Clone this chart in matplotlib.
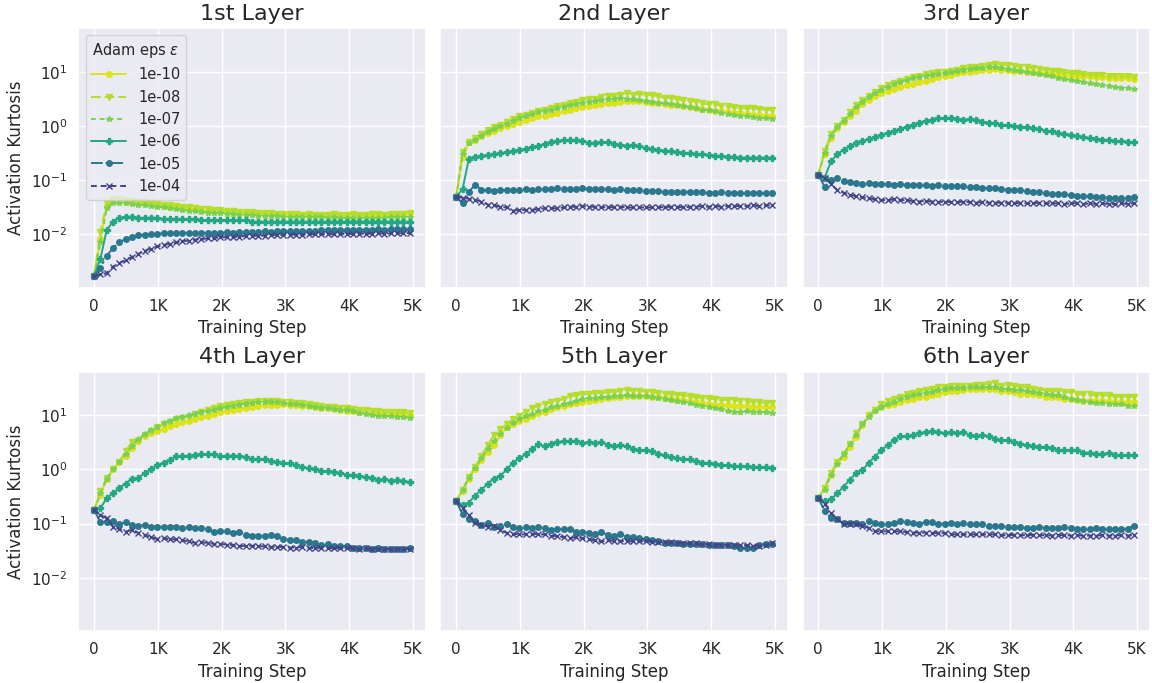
import numpy as np
import matplotlib
matplotlib.use("Agg")
import matplotlib.pyplot as plt
import seaborn as sns

# training steps at which the kurtosis was logged
steps = list(range(0, 5000, 99))

eps_labels = ['1e-10', '1e-08', '1e-07', '1e-06', '1e-05', '1e-04']
layer_names = ['1st Layer', '2nd Layer', '3rd Layer', '4th Layer', '5th Layer', '6th Layer']
xtick_vals = [0, 1000, 2000, 3000, 4000, 5000]
xtick_labels = ['0', '1K', '2K', '3K', '4K', '5K']

# ---- 1st layer ----
k1_e10 = [0.0017, 0.008, 0.035, 0.042, 0.041, 0.040, 0.039, 0.038, 0.037, 0.036,
          0.034, 0.033, 0.032, 0.031, 0.030, 0.029, 0.029, 0.028, 0.028, 0.027,
          0.027, 0.026, 0.026, 0.026, 0.025, 0.025, 0.025, 0.024, 0.024, 0.024,
          0.024, 0.023, 0.024, 0.023, 0.023, 0.023, 0.023, 0.023, 0.023, 0.023,
          0.023, 0.023, 0.023, 0.023, 0.022, 0.023, 0.023, 0.023, 0.024, 0.024,
          0.025]
k1_e08 = [0.0017, 0.011, 0.038, 0.045, 0.044, 0.043, 0.041, 0.040, 0.039, 0.037,
          0.036, 0.035, 0.034, 0.033, 0.032, 0.031, 0.030, 0.029, 0.029, 0.028,
          0.028, 0.027, 0.027, 0.026, 0.026, 0.026, 0.025, 0.025, 0.025, 0.024,
          0.024, 0.024, 0.024, 0.023, 0.024, 0.023, 0.023, 0.023, 0.024, 0.023,
          0.023, 0.024, 0.023, 0.023, 0.024, 0.024, 0.023, 0.024, 0.024, 0.024,
          0.025]
k1_e07 = [0.0017, 0.007, 0.030, 0.038, 0.038, 0.037, 0.036, 0.035, 0.034, 0.033,
          0.032, 0.031, 0.030, 0.029, 0.028, 0.027, 0.027, 0.026, 0.025, 0.025,
          0.025, 0.024, 0.024, 0.023, 0.023, 0.023, 0.022, 0.022, 0.022, 0.022,
          0.021, 0.021, 0.021, 0.021, 0.021, 0.021, 0.021, 0.020, 0.021, 0.020,
          0.020, 0.020, 0.020, 0.020, 0.020, 0.020, 0.020, 0.021, 0.021, 0.021,
          0.021]
k1_e06 = [0.0017, 0.0035, 0.012, 0.017, 0.020, 0.021, 0.021, 0.020, 0.020, 0.020,
          0.020, 0.019, 0.019, 0.019, 0.019, 0.019, 0.019, 0.018, 0.018, 0.018,
          0.018, 0.018, 0.018, 0.018, 0.018, 0.017, 0.017, 0.017, 0.017, 0.017,
          0.017, 0.017, 0.017, 0.017, 0.017, 0.017, 0.017, 0.017, 0.017, 0.017,
          0.017, 0.017, 0.017, 0.017, 0.017, 0.017, 0.017, 0.017, 0.017, 0.017,
          0.017]
k1_e05 = [0.0017, 0.0024, 0.0040, 0.0055, 0.0070, 0.0082, 0.0090, 0.0095, 0.0098, 0.0100,
          0.0102, 0.0103, 0.0104, 0.0104, 0.0105, 0.0105, 0.0105, 0.0106, 0.0105, 0.0106,
          0.0106, 0.0107, 0.0106, 0.0107, 0.0108, 0.0108, 0.0110, 0.0112, 0.0111, 0.0112,
          0.0112, 0.0113, 0.0114, 0.0115, 0.0114, 0.0116, 0.0117, 0.0118, 0.0117, 0.0119,
          0.0120, 0.0120, 0.0121, 0.0119, 0.0121, 0.0122, 0.0121, 0.0122, 0.0123, 0.0122,
          0.0125]
k1_e04 = [0.0017, 0.0018, 0.0019, 0.0025, 0.0029, 0.0033, 0.0038, 0.0043, 0.0049, 0.0054,
          0.0059, 0.0063, 0.0066, 0.0070, 0.0074, 0.0076, 0.0079, 0.0081, 0.0083, 0.0085,
          0.0087, 0.0088, 0.0089, 0.0090, 0.0092, 0.0093, 0.0093, 0.0094, 0.0095, 0.0096,
          0.0097, 0.0097, 0.0098, 0.0097, 0.0099, 0.0099, 0.0100, 0.0099, 0.0100, 0.0101,
          0.0100, 0.0101, 0.0102, 0.0101, 0.0102, 0.0103, 0.0102, 0.0103, 0.0104, 0.0103,
          0.0105]

# ---- 2nd layer ----
k2_e10 = [0.049, 0.27, 0.51, 0.55, 0.64, 0.74, 0.82, 0.90, 1.00, 1.10,
          1.20, 1.30, 1.40, 1.50, 1.55, 1.65, 1.75, 1.85, 1.95, 2.10,
          2.25, 2.35, 2.45, 2.55, 2.65, 2.70, 2.80, 2.90, 2.90, 2.85,
          2.80, 2.70, 2.60, 2.55, 2.45, 2.40, 2.30, 2.25, 2.15, 2.05,
          1.95, 1.90, 1.85, 1.80, 1.75, 1.70, 1.65, 1.60, 1.60, 1.55,
          1.50]
k2_e08 = [0.049, 0.33, 0.50, 0.60, 0.72, 0.85, 0.95, 1.05, 1.20, 1.35,
          1.50, 1.60, 1.75, 1.90, 2.00, 2.15, 2.30, 2.45, 2.60, 2.75,
          3.00, 3.10, 3.20, 3.35, 3.50, 3.60, 3.70, 4.10, 3.80, 3.90,
          3.70, 3.75, 3.50, 3.30, 3.30, 3.10, 3.00, 2.90, 2.80, 2.60,
          2.50, 2.50, 2.35, 2.30, 2.20, 2.15, 2.10, 2.10, 2.05, 2.00,
          1.95]
k2_e07 = [0.049, 0.30, 0.48, 0.56, 0.66, 0.78, 0.88, 0.98, 1.10, 1.25,
          1.40, 1.50, 1.65, 1.80, 1.90, 2.00, 2.10, 2.25, 2.40, 2.55,
          2.70, 2.80, 2.90, 3.00, 3.10, 3.20, 3.30, 3.20, 3.10, 3.00,
          2.90, 2.80, 2.70, 2.60, 2.50, 2.40, 2.30, 2.20, 2.10, 2.00,
          1.95, 1.85, 1.75, 1.65, 1.60, 1.55, 1.50, 1.45, 1.40, 1.38,
          1.34]
k2_e06 = [0.049, 0.067, 0.245, 0.27, 0.28, 0.29, 0.30, 0.31, 0.33, 0.34,
          0.36, 0.38, 0.40, 0.43, 0.46, 0.50, 0.52, 0.55, 0.54, 0.55,
          0.53, 0.48, 0.49, 0.50, 0.50, 0.46, 0.45, 0.43, 0.44, 0.42,
          0.39, 0.37, 0.36, 0.35, 0.34, 0.33, 0.32, 0.31, 0.30, 0.30,
          0.29, 0.28, 0.28, 0.27, 0.27, 0.26, 0.26, 0.26, 0.26, 0.26,
          0.26]
k2_e05 = [0.049, 0.037, 0.060, 0.082, 0.066, 0.064, 0.063, 0.064, 0.066, 0.065,
          0.064, 0.068, 0.066, 0.068, 0.069, 0.068, 0.070, 0.069, 0.069, 0.068,
          0.070, 0.069, 0.068, 0.069, 0.067, 0.066, 0.068, 0.064, 0.066, 0.065,
          0.063, 0.062, 0.062, 0.061, 0.061, 0.060, 0.060, 0.061, 0.059, 0.059,
          0.058, 0.058, 0.059, 0.058, 0.058, 0.057, 0.058, 0.057, 0.058, 0.057,
          0.058]
k2_e04 = [0.049, 0.047, 0.045, 0.043, 0.040, 0.035, 0.034, 0.032, 0.031, 0.027,
          0.028, 0.028, 0.028, 0.029, 0.030, 0.030, 0.030, 0.031, 0.032, 0.032,
          0.033, 0.032, 0.032, 0.031, 0.032, 0.031, 0.032, 0.031, 0.031, 0.031,
          0.031, 0.031, 0.032, 0.031, 0.032, 0.032, 0.031, 0.032, 0.032, 0.033,
          0.032, 0.033, 0.032, 0.033, 0.033, 0.033, 0.033, 0.034, 0.033, 0.034,
          0.034]

# ---- 3rd layer ----
k3_e10 = [0.126, 0.30, 0.60, 0.90, 1.2, 1.5, 1.9, 2.5, 3.0, 3.5,
          4.0, 4.4, 4.8, 5.2, 5.6, 6.0, 6.4, 6.8, 7.3, 7.9,
          8.5, 8.9, 9.3, 9.7, 10.0, 10.3, 10.6, 11.0, 11.2, 11.0,
          10.7, 10.5, 10.3, 10.0, 9.8, 9.6, 9.4, 9.2, 9.0, 8.8,
          8.6, 8.4, 8.3, 8.2, 8.0, 7.9, 7.8, 7.8, 7.7, 7.6,
          7.5]
k3_e08 = [0.126, 0.35, 0.70, 1.0, 1.3, 1.8, 2.4, 3.0, 3.6, 4.3,
          5.0, 5.6, 6.2, 6.8, 7.4, 8.0, 8.5, 9.0, 9.4, 9.7,
          10.0, 10.5, 11.0, 11.5, 12.0, 12.5, 13.0, 13.5, 14.0, 13.6,
          13.2, 12.8, 12.4, 12.0, 11.6, 11.2, 10.8, 10.5, 10.2, 9.8,
          9.5, 9.3, 9.1, 8.9, 8.7, 8.6, 8.5, 8.4, 8.3, 8.2,
          8.0]
k3_e07 = [0.126, 0.32, 0.65, 0.95, 1.25, 1.65, 2.2, 2.8, 3.4, 4.0,
          4.7, 5.3, 5.9, 6.5, 7.1, 7.6, 8.1, 8.5, 8.9, 9.2,
          9.5, 9.9, 10.3, 10.7, 11.1, 11.5, 11.8, 12.0, 12.0, 11.6,
          11.2, 10.8, 10.3, 9.9, 9.5, 9.0, 8.6, 8.2, 7.8, 7.4,
          7.0, 6.7, 6.4, 6.1, 5.9, 5.7, 5.5, 5.3, 5.1, 5.0,
          4.8]
k3_e06 = [0.126, 0.11, 0.22, 0.30, 0.36, 0.42, 0.48, 0.52, 0.57, 0.62,
          0.68, 0.74, 0.80, 0.88, 0.96, 1.05, 1.15, 1.25, 1.30, 1.40,
          1.38, 1.42, 1.35, 1.30, 1.32, 1.28, 1.20, 1.15, 1.12, 1.05,
          1.02, 1.00, 0.97, 0.94, 0.90, 0.86, 0.82, 0.79, 0.75, 0.71,
          0.68, 0.65, 0.62, 0.60, 0.58, 0.56, 0.55, 0.53, 0.52, 0.51,
          0.50]
k3_e05 = [0.126, 0.075, 0.10, 0.11, 0.095, 0.090, 0.087, 0.085, 0.088, 0.085,
          0.086, 0.084, 0.082, 0.083, 0.081, 0.080, 0.082, 0.080, 0.079, 0.080,
          0.078, 0.077, 0.078, 0.076, 0.074, 0.075, 0.072, 0.070, 0.071, 0.068,
          0.066, 0.065, 0.064, 0.062, 0.061, 0.059, 0.058, 0.056, 0.055, 0.054,
          0.052, 0.051, 0.050, 0.050, 0.049, 0.048, 0.047, 0.047, 0.046, 0.046,
          0.048]
k3_e04 = [0.126, 0.11, 0.085, 0.065, 0.058, 0.053, 0.050, 0.048, 0.046, 0.044,
          0.043, 0.042, 0.044, 0.043, 0.042, 0.041, 0.040, 0.041, 0.040, 0.039,
          0.040, 0.039, 0.039, 0.040, 0.039, 0.038, 0.039, 0.038, 0.038, 0.038,
          0.038, 0.037, 0.038, 0.037, 0.037, 0.038, 0.037, 0.037, 0.037, 0.036,
          0.037, 0.037, 0.036, 0.037, 0.036, 0.037, 0.036, 0.036, 0.037, 0.036,
          0.037]

# ---- 4th layer ----
k4_e10 = [0.178, 0.34, 0.67, 1.0, 1.37, 1.8, 2.5, 3.4, 4.2, 4.8,
          5.2, 5.7, 6.3, 6.8, 7.4, 8.0, 8.6, 9.2, 9.9, 10.6,
          11.3, 12.0, 12.6, 13.2, 13.8, 14.5, 15.0, 15.3, 15.6, 15.8,
          15.9, 15.7, 15.5, 15.2, 14.8, 14.2, 13.8, 13.4, 13.0, 12.6,
          12.2, 11.9, 11.6, 11.3, 11.1, 11.0, 10.8, 10.6, 10.5, 10.4,
          10.3]
k4_e08 = [0.178, 0.40, 0.70, 1.0, 1.4, 2.2, 3.2, 3.4, 4.4, 5.2,
          6.0, 6.8, 7.6, 8.4, 9.0, 9.5, 10.5, 11.5, 12.5, 13.5,
          14.9, 15.5, 16.2, 16.8, 17.5, 18.0, 18.3, 18.5, 18.5, 18.2,
          18.0, 17.6, 17.2, 16.8, 16.2, 15.6, 15.0, 14.5, 14.2, 13.8,
          13.5, 13.0, 12.6, 12.3, 12.0, 11.8, 11.6, 11.5, 11.4, 11.3,
          11.2]
k4_e07 = [0.178, 0.36, 0.68, 1.0, 1.35, 1.9, 2.7, 3.6, 4.6, 5.4,
          6.2, 7.2, 8.0, 8.8, 9.4, 10.0, 10.8, 11.5, 12.2, 12.8,
          13.5, 14.2, 15.0, 15.8, 16.5, 17.0, 17.5, 18.0, 18.0, 17.6,
          17.0, 16.5, 16.0, 15.5, 14.8, 14.2, 13.8, 13.4, 13.0, 12.8,
          12.5, 11.8, 11.2, 10.6, 10.2, 9.8, 9.7, 9.6, 9.4, 9.2,
          9.0]
k4_e06 = [0.178, 0.19, 0.30, 0.36, 0.46, 0.55, 0.68, 0.70, 0.85, 1.00,
          1.20, 1.33, 1.50, 1.75, 1.78, 1.80, 1.85, 1.90, 1.90, 1.90,
          1.75, 1.80, 1.80, 1.78, 1.70, 1.55, 1.55, 1.55, 1.45, 1.35,
          1.33, 1.30, 1.20, 1.10, 1.05, 1.00, 0.95, 0.92, 0.90, 0.85,
          0.80, 0.78, 0.77, 0.72, 0.70, 0.64, 0.66, 0.62, 0.64, 0.60,
          0.59]
k4_e05 = [0.178, 0.106, 0.106, 0.110, 0.098, 0.106, 0.094, 0.090, 0.094, 0.088,
          0.087, 0.087, 0.088, 0.088, 0.082, 0.088, 0.082, 0.082, 0.078, 0.071,
          0.074, 0.073, 0.066, 0.071, 0.062, 0.060, 0.060, 0.058, 0.062, 0.058,
          0.052, 0.050, 0.050, 0.046, 0.046, 0.044, 0.041, 0.042, 0.039, 0.039,
          0.039, 0.036, 0.036, 0.036, 0.034, 0.035, 0.034, 0.034, 0.034, 0.034,
          0.036]
k4_e04 = [0.178, 0.144, 0.125, 0.088, 0.080, 0.071, 0.076, 0.067, 0.061, 0.056,
          0.052, 0.053, 0.051, 0.051, 0.049, 0.047, 0.044, 0.045, 0.044, 0.042,
          0.042, 0.041, 0.040, 0.038, 0.039, 0.039, 0.038, 0.038, 0.037, 0.037,
          0.037, 0.036, 0.036, 0.037, 0.036, 0.035, 0.036, 0.035, 0.035, 0.035,
          0.035, 0.035, 0.034, 0.035, 0.034, 0.034, 0.034, 0.034, 0.034, 0.034,
          0.034]

# ---- 5th layer ----
k5_e10 = [0.26, 0.40, 0.68, 1.0, 1.47, 2.1, 2.8, 4.3, 6.1, 6.9,
          8.0, 8.6, 9.9, 11.0, 11.6, 13.0, 14.0, 15.0, 16.1, 17.0,
          17.8, 18.6, 19.3, 20.0, 20.8, 21.4, 22.0, 22.4, 22.4, 22.6,
          22.4, 22.0, 21.4, 20.8, 20.0, 19.6, 19.0, 18.5, 17.8, 17.0,
          16.1, 15.8, 15.5, 15.3, 15.0, 14.8, 14.6, 14.4, 14.3, 14.1,
          14.0]
k5_e08 = [0.26, 0.42, 0.73, 1.1, 1.8, 2.85, 4.4, 5.6, 6.9, 8.5,
          9.9, 11.7, 13.5, 15.0, 16.0, 17.5, 18.7, 20.0, 22.5, 23.5,
          24.6, 25.0, 25.5, 26.0, 26.5, 27.0, 28.5, 29.6, 28.5, 28.5,
          27.5, 26.6, 26.0, 25.0, 24.6, 24.0, 23.6, 22.5, 21.4, 21.0,
          20.5, 20.0, 19.6, 19.3, 18.9, 18.6, 18.2, 17.8, 17.4, 17.1,
          16.8]
k5_e07 = [0.26, 0.41, 0.70, 1.05, 1.6, 2.4, 3.3, 4.6, 5.8, 7.2,
          8.6, 9.6, 10.8, 11.8, 12.8, 14.0, 15.0, 16.0, 17.0, 18.6,
          20.0, 20.6, 21.0, 21.6, 22.0, 22.6, 23.0, 23.6, 23.2, 23.0,
          22.4, 21.6, 20.8, 20.0, 19.3, 18.6, 17.8, 16.6, 15.8, 15.0,
          14.0, 13.4, 12.9, 12.2, 11.6, 11.6, 11.8, 11.6, 11.4, 11.6,
          11.0]
k5_e06 = [0.26, 0.22, 0.245, 0.33, 0.42, 0.55, 0.68, 0.76, 1.0, 1.33,
          1.6, 1.9, 2.35, 2.9, 2.7, 2.98, 3.2, 3.29, 3.29, 3.43,
          3.07, 3.2, 3.07, 3.2, 2.86, 2.7, 2.78, 2.7, 2.41, 2.25,
          2.25, 2.15, 1.95, 1.82, 1.69, 1.62, 1.54, 1.54, 1.41, 1.33,
          1.33, 1.28, 1.23, 1.19, 1.14, 1.14, 1.16, 1.11, 1.10, 1.09,
          1.08]
k5_e05 = [0.26, 0.148, 0.12, 0.112, 0.094, 0.103, 0.088, 0.090, 0.098, 0.088,
          0.082, 0.085, 0.084, 0.088, 0.082, 0.076, 0.079, 0.079, 0.079, 0.070,
          0.071, 0.067, 0.065, 0.071, 0.061, 0.059, 0.063, 0.057, 0.057, 0.054,
          0.051, 0.049, 0.047, 0.044, 0.044, 0.044, 0.042, 0.042, 0.042, 0.042,
          0.041, 0.040, 0.040, 0.040, 0.038, 0.036, 0.036, 0.036, 0.040, 0.042,
          0.042]
k5_e04 = [0.26, 0.19, 0.144, 0.103, 0.094, 0.088, 0.090, 0.076, 0.067, 0.065,
          0.063, 0.063, 0.065, 0.063, 0.063, 0.059, 0.059, 0.056, 0.054, 0.056,
          0.054, 0.051, 0.049, 0.047, 0.049, 0.048, 0.048, 0.047, 0.047, 0.047,
          0.047, 0.046, 0.046, 0.045, 0.045, 0.044, 0.044, 0.043, 0.043, 0.042,
          0.042, 0.041, 0.041, 0.040, 0.040, 0.040, 0.040, 0.039, 0.039, 0.040,
          0.043]

# ---- 6th layer ----
k6_e10 = [0.30, 0.45, 0.79, 1.3, 1.72, 2.6, 4.0, 6.6, 10.0, 12.4,
          14.2, 15.3, 16.4, 17.5, 19.4, 20.2, 21.7, 22.3, 23.3, 25.0,
          26.8, 28.0, 28.8, 29.6, 31.0, 31.0, 31.0, 31.0, 31.0, 28.8,
          28.0, 26.8, 25.0, 25.0, 24.3, 23.3, 22.3, 21.7, 21.7, 20.2,
          20.2, 19.4, 18.8, 18.8, 18.8, 18.3, 18.3, 17.5, 17.5, 17.5,
          17.5]
k6_e08 = [0.30, 0.46, 0.86, 1.4, 1.9, 3.0, 4.8, 7.0, 10.0, 12.8,
          16.4, 18.3, 20.2, 22.3, 24.3, 25.8, 28.0, 29.6, 31.0, 33.0,
          34.0, 35.5, 35.5, 35.5, 35.5, 37.0, 37.0, 38.0, 39.0, 35.5,
          37.0, 35.5, 33.0, 33.0, 31.0, 30.0, 28.8, 28.0, 28.0, 26.8,
          26.8, 25.0, 24.3, 24.3, 23.3, 23.3, 23.3, 22.3, 22.3, 22.3,
          22.3]
k6_e07 = [0.30, 0.42, 0.78, 1.25, 1.9, 2.9, 4.4, 6.8, 9.5, 12.0,
          14.2, 16.0, 17.8, 19.8, 21.5, 23.3, 24.5, 26.0, 27.5, 29.0,
          30.5, 32.0, 32.0, 32.5, 33.0, 33.0, 33.0, 33.0, 33.0, 31.0,
          31.0, 30.0, 29.6, 28.0, 26.8, 26.0, 25.0, 24.0, 23.3, 22.0,
          20.2, 19.5, 18.3, 17.5, 16.8, 16.8, 16.4, 16.0, 15.9, 15.2,
          14.6]
k6_e06 = [0.30, 0.26, 0.28, 0.36, 0.48, 0.65, 0.86, 0.96, 1.34, 1.73,
          2.28, 2.82, 3.5, 4.1, 4.1, 4.3, 4.7, 4.9, 5.15, 4.9,
          4.7, 4.9, 4.7, 4.9, 4.3, 4.1, 4.3, 4.1, 3.7, 3.5,
          3.5, 3.2, 3.0, 2.82, 2.7, 2.65, 2.6, 2.5, 2.28, 2.25,
          2.25, 2.25, 2.05, 2.05, 1.95, 1.95, 2.0, 1.86, 1.86, 1.84,
          1.82]
k6_e05 = [0.30, 0.168, 0.127, 0.12, 0.103, 0.103, 0.103, 0.100, 0.110, 0.103,
          0.097, 0.100, 0.103, 0.110, 0.106, 0.103, 0.100, 0.106, 0.106, 0.100,
          0.100, 0.103, 0.100, 0.103, 0.097, 0.097, 0.100, 0.090, 0.090, 0.090,
          0.088, 0.085, 0.085, 0.083, 0.083, 0.085, 0.083, 0.083, 0.083, 0.085,
          0.083, 0.080, 0.080, 0.080, 0.083, 0.080, 0.080, 0.078, 0.080, 0.080,
          0.092]
k6_e04 = [0.30, 0.233, 0.16, 0.12, 0.10, 0.10, 0.10, 0.089, 0.083, 0.072,
          0.072, 0.072, 0.072, 0.072, 0.069, 0.068, 0.068, 0.068, 0.066, 0.068,
          0.066, 0.063, 0.063, 0.063, 0.063, 0.063, 0.063, 0.063, 0.063, 0.061,
          0.061, 0.062, 0.061, 0.061, 0.062, 0.061, 0.061, 0.060, 0.061, 0.061,
          0.060, 0.061, 0.060, 0.060, 0.060, 0.061, 0.060, 0.060, 0.061, 0.060,
          0.061]

layers = [
    [k1_e10, k1_e08, k1_e07, k1_e06, k1_e05, k1_e04],
    [k2_e10, k2_e08, k2_e07, k2_e06, k2_e05, k2_e04],
    [k3_e10, k3_e08, k3_e07, k3_e06, k3_e05, k3_e04],
    [k4_e10, k4_e08, k4_e07, k4_e06, k4_e05, k4_e04],
    [k5_e10, k5_e08, k5_e07, k5_e06, k5_e05, k5_e04],
    [k6_e10, k6_e08, k6_e07, k6_e06, k6_e05, k6_e04],
]

# style per eps (viridis, light -> dark)
colors = ['#dde318', '#b5de2b', '#7ad151', '#22a884', '#2a788e', '#414487']
markers = ['o', 'v', '*', 'P', 'o', 'x']
dashes = ['-', (0, (5, 2)), (0, (2.5, 2)), '-', (0, (6, 1.5, 1.5, 1.5)), (0, (3, 2))]

sns.set_theme(style="darkgrid")
plt.rcParams['font.family'] = ['DejaVu Sans']

fig, axes = plt.subplots(2, 3, figsize=(11.52, 6.83), dpi=100, sharey=True)
fig.subplots_adjust(left=0.068, right=0.998, top=0.959, bottom=0.076,
                    wspace=0.043, hspace=0.324)

for i, ax in enumerate(axes.flat):
    for j, vals in enumerate(layers[i]):
        ax.plot(steps, vals, color=colors[j], marker=markers[j], markersize=4,
                linestyle=dashes[j], linewidth=1.4, label=eps_labels[j])
    ax.set_yscale('log')
    ax.set_title(layer_names[i], fontsize=16)
    ax.set_xlabel('Training Step', fontsize=12)
    ax.set_xticks(xtick_vals)
    ax.set_xticklabels(xtick_labels)
    ax.tick_params(labelsize=11, pad=2)
    if i % 3 == 0:
        ax.set_ylabel('Activation Kurtosis', fontsize=12)

axes[0, 0].legend(title='Adam eps $\\epsilon$', loc='upper left', fontsize=10.5,
                  title_fontsize=10.5, handlelength=2.4)

plt.savefig('out.png', dpi=100)
